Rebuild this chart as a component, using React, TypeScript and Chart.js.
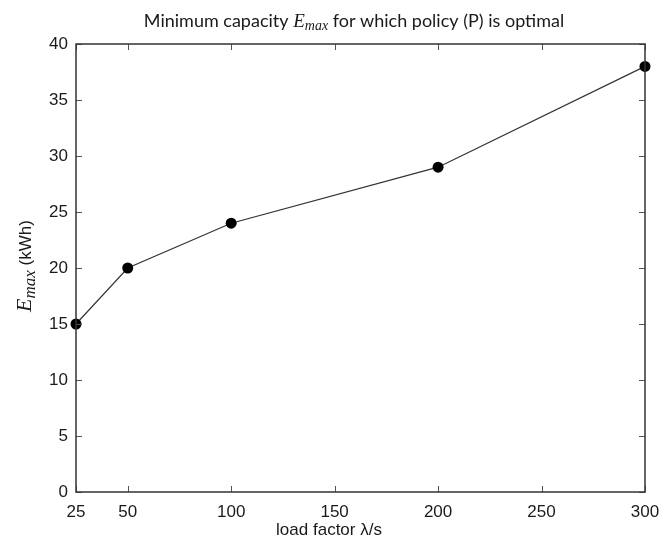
import React, { useEffect, useRef } from "react";
import { Chart, registerables } from "chart.js";

Chart.register(...registerables);

// Load factor λ/s against the minimum storage capacity E_max (kWh)
const loadFactors = [25, 50, 100, 200, 300];
const minCapacity = [15, 20, 24, 29, 38];
const xTickValues = [25, 50, 100, 150, 200, 250, 300];
const yTickValues = [0, 5, 10, 15, 20, 25, 30, 35, 40];

const TICK_FAMILY = "'Liberation Sans', Arial, sans-serif";
const LABEL_FONT = "17px 'Liberation Sans', Arial, sans-serif";
const TITLE_FONT = "18px Lato, 'Open Sans', sans-serif";
const MATH_E = "italic 19px 'Liberation Serif', serif";
const MATH_SUB = "italic 14px 'Liberation Serif', serif";

type Run = { text: string; font: string; dy?: number };

function runsWidth(ctx: CanvasRenderingContext2D, runs: Run[]) {
  let w = 0;
  for (const r of runs) {
    ctx.font = r.font;
    w += ctx.measureText(r.text).width;
  }
  return w;
}

function drawRuns(ctx: CanvasRenderingContext2D, runs: Run[], x: number, y: number) {
  let cx = x;
  ctx.textAlign = "left";
  ctx.textBaseline = "alphabetic";
  for (const r of runs) {
    ctx.font = r.font;
    ctx.fillText(r.text, cx, y + (r.dy || 0));
    cx += ctx.measureText(r.text).width;
  }
}

const framePlugin = {
  id: "frameAndLabels",
  afterDraw(chart: any) {
    const { ctx, chartArea } = chart;
    const { left, right, top, bottom } = chartArea;
    const xs = chart.scales.x;
    const ys = chart.scales.y;
    ctx.save();

    // inward ticks on all four sides
    ctx.strokeStyle = "#555";
    ctx.lineWidth = 1;
    const tl = 6;
    ctx.beginPath();
    for (const v of xTickValues) {
      const px = Math.round(xs.getPixelForValue(v)) + 0.5;
      ctx.moveTo(px, bottom);
      ctx.lineTo(px, bottom - tl);
      ctx.moveTo(px, top);
      ctx.lineTo(px, top + tl);
    }
    for (const v of yTickValues) {
      const py = Math.round(ys.getPixelForValue(v)) + 0.5;
      ctx.moveTo(left, py);
      ctx.lineTo(left + tl, py);
      ctx.moveTo(right, py);
      ctx.lineTo(right - tl, py);
    }
    ctx.stroke();

    // axes box
    ctx.strokeStyle = "#333";
    ctx.lineWidth = 1.5;
    ctx.strokeRect(left, top, right - left, bottom - top);

    ctx.fillStyle = "#1a1a1a";

    // title with math symbol
    const titleRuns: Run[] = [
      { text: "Minimum capacity ", font: TITLE_FONT },
      { text: "E", font: MATH_E },
      { text: "max", font: MATH_SUB, dy: 3 },
      { text: " for which policy (P) is optimal", font: TITLE_FONT },
    ];
    const tw = runsWidth(ctx, titleRuns);
    drawRuns(ctx, titleRuns, 354 - tw / 2, 27);

    // x axis title
    ctx.font = LABEL_FONT;
    ctx.textAlign = "center";
    ctx.textBaseline = "alphabetic";
    ctx.fillText("load factor λ/s", 329, 535);

    // y axis title (rotated)
    const yRuns: Run[] = [
      { text: "E", font: "italic 22px 'Liberation Serif', serif" },
      { text: "max", font: "italic 17px 'Liberation Serif', serif", dy: 4 },
      { text: " (kWh)", font: LABEL_FONT },
    ];
    const yw = runsWidth(ctx, yRuns);
    ctx.translate(31, 266 + yw / 2);
    ctx.rotate(-Math.PI / 2);
    drawRuns(ctx, yRuns, 0, 0);

    ctx.restore();
  },
};

export default function App() {
  const canvasRef = useRef<HTMLCanvasElement | null>(null);

  useEffect(() => {
    const canvas = canvasRef.current;
    if (!canvas) return;
    const chart = new Chart(canvas, {
      type: "line",
      data: {
        datasets: [
          {
            data: loadFactors.map((x, i) => ({ x, y: minCapacity[i] })),
            borderColor: "#333",
            borderWidth: 1.2,
            pointRadius: 5.5,
            pointBackgroundColor: "#000",
            pointBorderColor: "#000",
            pointBorderWidth: 0,
            tension: 0,
            clip: false as any,
          },
        ],
      },
      options: {
        responsive: false,
        animation: false,
        layout: { padding: { top: 44, right: 14, left: 0, bottom: 0 } },
        plugins: {
          legend: { display: false },
          title: { display: false },
          tooltip: { enabled: false },
        },
        scales: {
          x: {
            type: "linear",
            min: 25,
            max: 300,
            grid: { display: false, drawTicks: false },
            border: { display: false },
            afterBuildTicks: (axis: any) => {
              axis.ticks = xTickValues.map((v) => ({ value: v }));
            },
            afterFit: (scale: any) => {
              scale.height = 47;
              scale.paddingLeft = 0;
              scale.paddingRight = 0;
            },
            ticks: {
              font: { family: TICK_FAMILY, size: 17 },
              color: "#1a1a1a",
              padding: 10,
              maxRotation: 0,
              autoSkip: false,
            },
          },
          y: {
            type: "linear",
            min: 0,
            max: 40,
            grid: { display: false, drawTicks: false },
            border: { display: false },
            afterBuildTicks: (axis: any) => {
              axis.ticks = yTickValues.map((v) => ({ value: v }));
            },
            afterFit: (scale: any) => {
              scale.width = 76;
              scale.paddingTop = 0;
              scale.paddingBottom = 0;
            },
            ticks: {
              font: { family: TICK_FAMILY, size: 17 },
              color: "#1a1a1a",
              padding: 8,
              autoSkip: false,
            },
          },
        },
      },
      plugins: [framePlugin],
    });
    return () => chart.destroy();
  }, []);

  return (
    <div style={{ position: "fixed", left: 0, top: 0, width: 659, height: 539, background: "#fff" }}>
      <canvas ref={canvasRef} width={659} height={539} style={{ display: "block" }} />
    </div>
  );
}
